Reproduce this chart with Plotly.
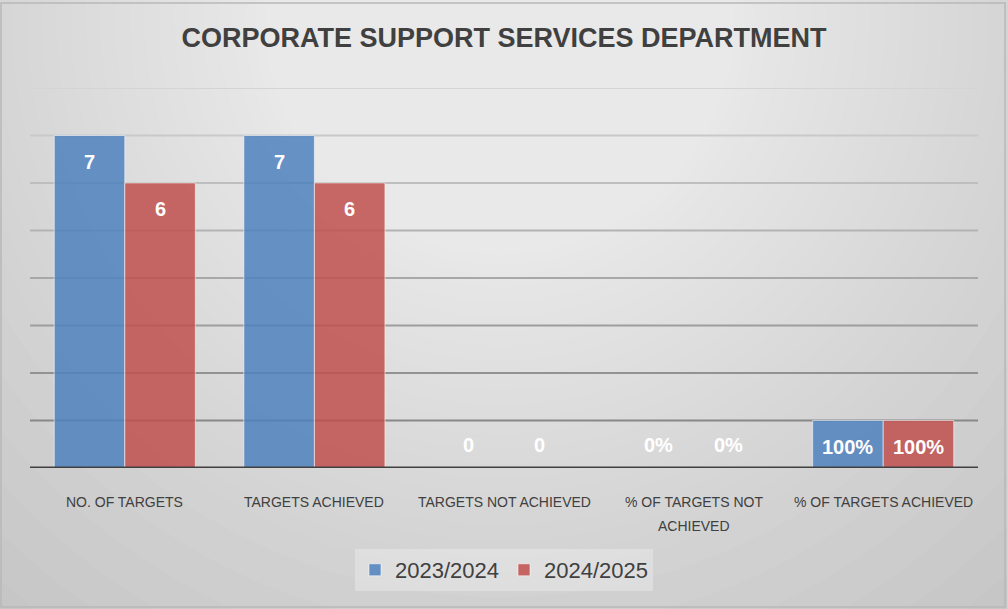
import numpy as np
import plotly.graph_objects as go

# ---- data ----
categories = [
    "NO. OF TARGETS",
    "TARGETS ACHIEVED",
    "TARGETS NOT ACHIEVED",
    "% OF TARGETS NOT<br>ACHIEVED",
    "% OF TARGETS ACHIEVED",
]
is_percent = [False, False, False, True, True]
values_2023 = [7, 7, 0, 0.0, 1.0]
values_2024 = [6, 6, 0, 0.0, 1.0]
series_names = ["2023/2024", "2024/2025"]
y_ticks = [0, 1, 2, 3, 4, 5, 6, 7, 8]

TEXT = "#404040"
BLUE = "rgba(79,129,189,0.85)"
RED = "rgba(192,80,77,0.85)"

# plot area in pixels (used for converting decoration positions)
W, H = 1007, 609
L, R, T, B = 30, 29, 88, 141
pw, ph = W - L - R, H - T - B


def px_x(px):
    return (px - L) / pw


def px_y(py):
    return (H - B - py) / ph


def fmt(v, pct):
    return f"{v * 100:.0f}%" if pct else f"{v:g}"


fig = go.Figure()
for name, vals, col in [(series_names[0], values_2023, BLUE),
                        (series_names[1], values_2024, RED)]:
    fig.add_bar(
        x=categories, y=vals, name=name,
        marker=dict(color=col, line=dict(color="rgba(255,255,255,0.55)", width=1)),
        hoverinfo="skip",
    )

shapes = []

# soft radial background glow built from many faint rings
cx, cy = px_x(500), px_y(20)
n_rings = 60
ring_alpha = 1 - 0.9 ** (24 / n_rings)
ring_r = np.interp(np.linspace(0, 24, n_rings + 1)[1:], [0, 3, 5, 11, 17, 24],
                   [820, 560, 480, 260, 110, 10])
for r in ring_r:
    shapes.append(dict(
        type="circle", layer="below",
        xref="paper", yref="paper", xsizemode="pixel", ysizemode="pixel",
        xanchor=cx, yanchor=cy, x0=-r, x1=r, y0=-r, y1=r,
        fillcolor=f"rgba(255,255,255,{ring_alpha:.4f})", line=dict(width=0),
    ))

# horizontal gridlines, darker toward the base
top_c, bot_c = np.array([212, 212, 212]), np.array([136, 136, 136])
for t in y_ticks[1:]:
    f = (t - 1) / (y_ticks[-1] - 1)
    c = (bot_c + (top_c - bot_c) * f).astype(int)
    shapes.append(dict(
        type="line", layer="below", xref="paper", yref="y",
        x0=0, x1=1, y0=t, y1=t,
        line=dict(color=f"rgb({c[0]},{c[1]},{c[2]})", width=2),
    ))

# baseline
shapes.append(dict(type="line", layer="above", xref="paper", yref="y",
                   x0=0, x1=1, y0=0, y1=0, line=dict(color=TEXT, width=3)))

# outer frame
shapes.append(dict(type="rect", layer="above", xref="paper", yref="paper",
                   x0=px_x(1), x1=px_x(1005), y0=px_y(607), y1=px_y(3),
                   line=dict(color="#b8b8b8", width=1.5), fillcolor="rgba(0,0,0,0)"))

annotations = []
# value labels
bar_off = pw / len(categories) * (1 - 0.256) / 4
for vals, dx in [(values_2023, -bar_off), (values_2024, bar_off)]:
    for cat, v, pct in zip(categories, vals, is_percent):
        annotations.append(dict(
            x=cat, y=v, xref="x", yref="y", text=fmt(v, pct), showarrow=False,
            xshift=dx, yshift=-26 if v > 0 else 23,
            font=dict(family="Liberation Sans, Arial", size=20, color="white", weight="bold"),
        ))

# category labels
for cat in categories:
    for i, line in enumerate(cat.split("<br>")):
        annotations.append(dict(
            x=cat, y=0, xref="x", yref="y", text=line, showarrow=False,
            yshift=-34 - 24 * i,
            font=dict(family="Liberation Sans, Arial", size=14, color=TEXT),
        ))

fig.update_layout(
    width=W, height=H,
    margin=dict(l=L, r=R, t=T, b=B, pad=0),
    paper_bgcolor="#c4c4c4",
    plot_bgcolor="rgba(0,0,0,0)",
    barmode="group", bargap=0.256, bargroupgap=0,
    title=dict(
        text="CORPORATE SUPPORT SERVICES DEPARTMENT",
        x=0.5, xanchor="center", xref="paper", y=px_y(38) * ph / H + B / H, yanchor="middle",
        font=dict(family="Liberation Sans, Arial", size=27, color=TEXT, weight="bold"),
    ),
    xaxis=dict(showticklabels=False, showgrid=False, zeroline=False, showline=False,
               ticks="", fixedrange=True),
    yaxis=dict(range=[0, 8], tickvals=y_ticks, showticklabels=False, showgrid=False,
               zeroline=False, showline=False, ticks=""),
    legend=dict(
        orientation="h", x=0.5, xanchor="center", y=px_y(549), yanchor="top",
        bgcolor="rgba(255,255,255,0.28)", borderwidth=0,
        font=dict(family="Liberation Sans, Arial", size=22, color=TEXT),
        itemwidth=30, entrywidthmode="pixels",
    ),
    shapes=shapes,
    annotations=annotations,
    showlegend=True,
)

fig.write_html("out.html")
